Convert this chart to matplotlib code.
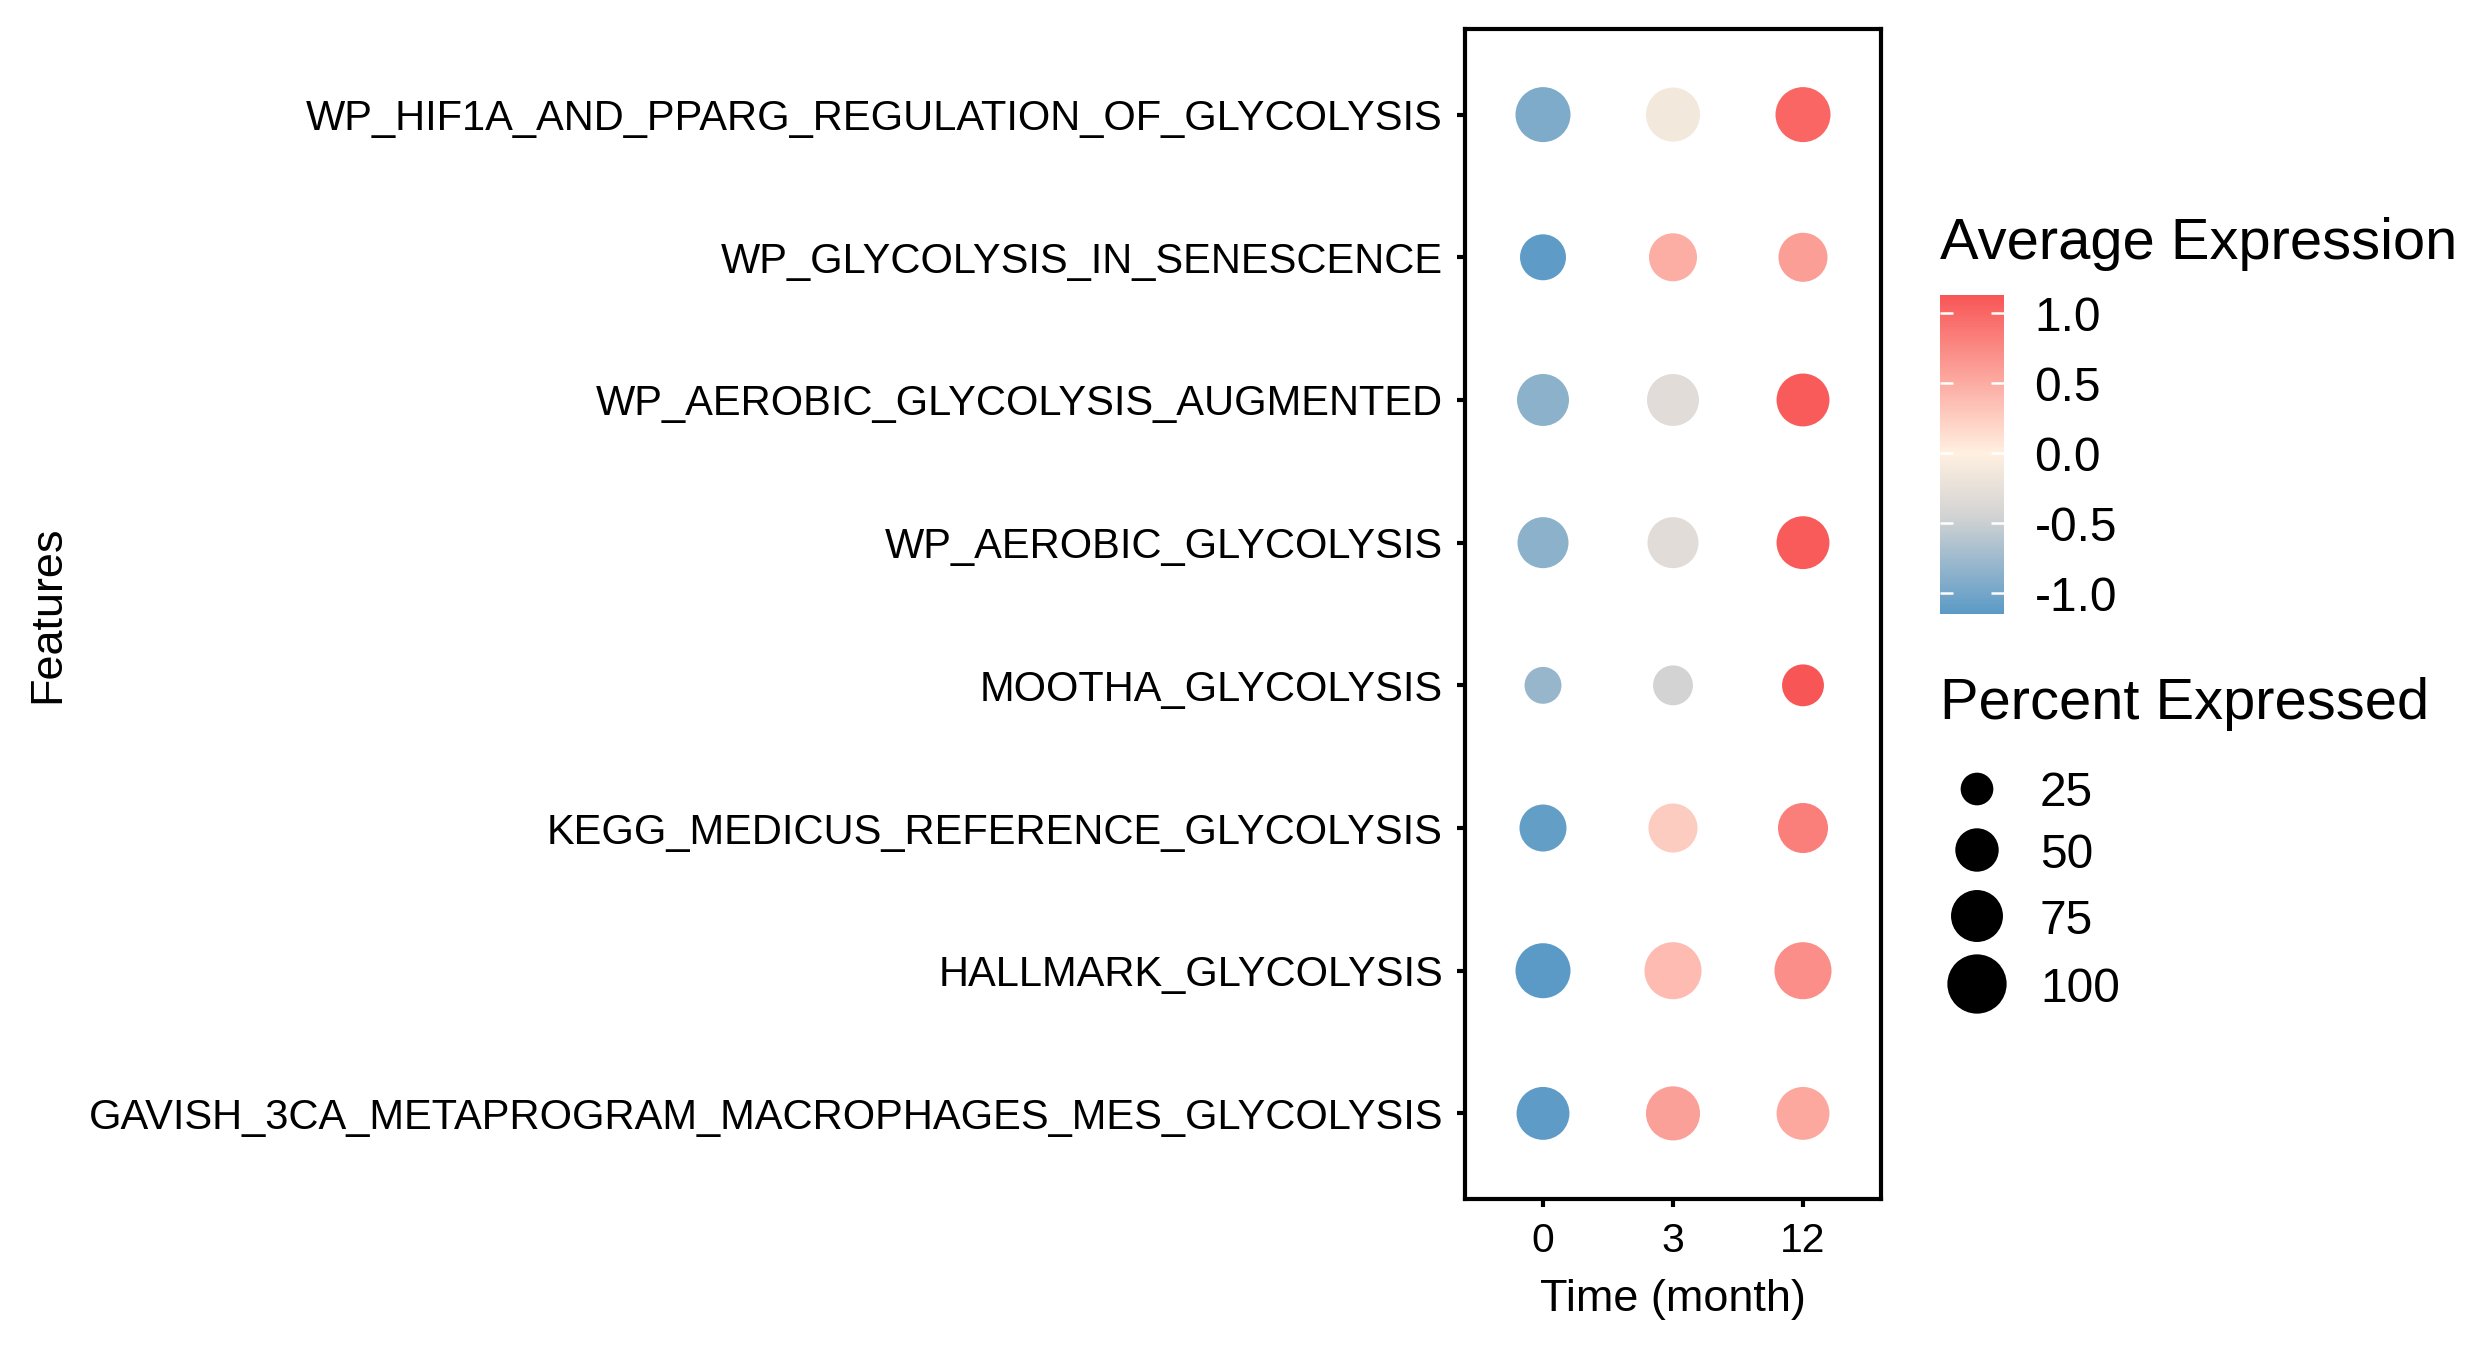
import numpy as np
import matplotlib
matplotlib.use("Agg")
import matplotlib.pyplot as plt
from matplotlib.colors import LinearSegmentedColormap, Normalize
from matplotlib.cm import ScalarMappable

plt.rcParams['font.family'] = ['Liberation Sans', 'DejaVu Sans']

# ---------------- data ----------------
features = [
    "WP_HIF1A_AND_PPARG_REGULATION_OF_GLYCOLYSIS",
    "WP_GLYCOLYSIS_IN_SENESCENCE",
    "WP_AEROBIC_GLYCOLYSIS_AUGMENTED",
    "WP_AEROBIC_GLYCOLYSIS",
    "MOOTHA_GLYCOLYSIS",
    "KEGG_MEDICUS_REFERENCE_GLYCOLYSIS",
    "HALLMARK_GLYCOLYSIS",
    "GAVISH_3CA_METAPROGRAM_MACROPHAGES_MES_GLYCOLYSIS",
]
times = ["0", "3", "12"]

avg_exp_t0 = [-0.94, -1.13, -0.86, -0.87, -0.80, -1.10, -1.15, -1.13]
avg_exp_t3 = [-0.12, 0.48, -0.31, -0.31, -0.44, 0.26, 0.39, 0.58]
avg_exp_t12 = [1.01, 0.60, 1.09, 1.09, 1.13, 0.82, 0.72, 0.53]

pct_exp_t0 = [85, 57, 75, 72, 34, 60, 85, 78]
pct_exp_t3 = [82, 63, 75, 72, 41, 66, 92, 82]
pct_exp_t12 = [85, 66, 78, 78, 46, 69, 92, 78]

color_ticks = [-1.0, -0.5, 0.0, 0.5, 1.0]
color_tick_labels = ["-1.0", "-0.5", "0.0", "0.5", "1.0"]
size_breaks = [25, 50, 75, 100]

# ---------------- figure ----------------
W, H, DPI = 2490, 1350, 300
fig = plt.figure(figsize=(W / DPI, H / DPI), dpi=DPI)
fig.patch.set_facecolor("white")


def box(x0, y0, x1, y1):
    return [x0 / W, 1 - y1 / H, (x1 - x0) / W, (y1 - y0) / H]


avg = np.column_stack([avg_exp_t0, avg_exp_t3, avg_exp_t12])
pct = np.column_stack([pct_exp_t0, pct_exp_t3, pct_exp_t12])

vmin, vmax = avg.min(), avg.max()
anchor_vals = [vmin, -0.45, 0.0, vmax]
anchor_cols = ["#5B9AC6", "#D3D3D3", "#FFF0E0", "#F85656"]
cmap = LinearSegmentedColormap.from_list(
    "avgexp", [((v - vmin) / (vmax - vmin), c) for v, c in zip(anchor_vals, anchor_cols)])
norm = Normalize(vmin=vmin, vmax=vmax)


def size_of(p):
    return 14.6 + 1.878 * np.asarray(p, dtype=float)


ax = fig.add_axes(box(1465, 29, 1881, 1199))
nf = len(features)
xs, ys = np.meshgrid(np.arange(len(times)), nf - 1 - np.arange(nf))
ax.scatter(xs.ravel(), ys.ravel(), s=size_of(pct.ravel()), c=avg.ravel(),
           cmap=cmap, norm=norm, linewidths=0, zorder=3)

ax.set_xlim(-0.6, len(times) - 0.4)
ax.set_ylim(-0.6, nf - 0.4)
ax.set_xticks(np.arange(len(times)))
ax.set_xticklabels(times, fontsize=9.8)
ax.set_yticks(nf - 1 - np.arange(nf))
ax.set_yticklabels(features, fontsize=10)
ax.tick_params(axis="both", length=2.0, width=1.0, color="black")
ax.tick_params(axis="y", pad=3.3)
ax.tick_params(axis="x", pad=3.5)
for sp in ax.spines.values():
    sp.set_linewidth(1.0)
    sp.set_color("black")

fig.text(1673 / W, 1 - 1311 / H, "Time (month)", ha="center", va="baseline", fontsize=10.8)
fig.text(48 / W, 1 - 614 / H, "Features", ha="center", va="center", rotation=90, fontsize=10.8)

# ---------------- colour legend ----------------
fig.text(1940 / W, 1 - 259 / H, "Average Expression", ha="left", va="baseline", fontsize=13.9)
cax = fig.add_axes(box(1940, 295, 2004, 614))
cb = fig.colorbar(ScalarMappable(norm=norm, cmap=cmap), cax=cax)
cb.outline.set_visible(False)
cb.set_ticks(color_ticks)
cb.set_ticklabels(color_tick_labels)
cax.tick_params(axis="y", which="both", direction="in", color="white", length=3.2,
                width=0.6, left=True, right=True, labelleft=False, labelright=True,
                labelsize=11.5, pad=7.3)
cax.minorticks_off()

# ---------------- size legend ----------------
fig.text(1940 / W, 1 - 719 / H, "Percent Expressed", ha="left", va="baseline", fontsize=13.9)
lax = fig.add_axes(box(1940, 750, 2240, 1030))
lax.set_xlim(1940, 2240)
lax.set_ylim(1030, 750)
lax.axis("off")
key_y = [789, 850, 916, 984]
lax.scatter([1977] * len(size_breaks), key_y, s=size_of(size_breaks), c="black", linewidths=0)
for yk, b in zip(key_y, size_breaks):
    lax.text(2040, yk, str(b), ha="left", va="center_baseline", fontsize=11.5)

fig.savefig("out.png", dpi=DPI, facecolor="white")
